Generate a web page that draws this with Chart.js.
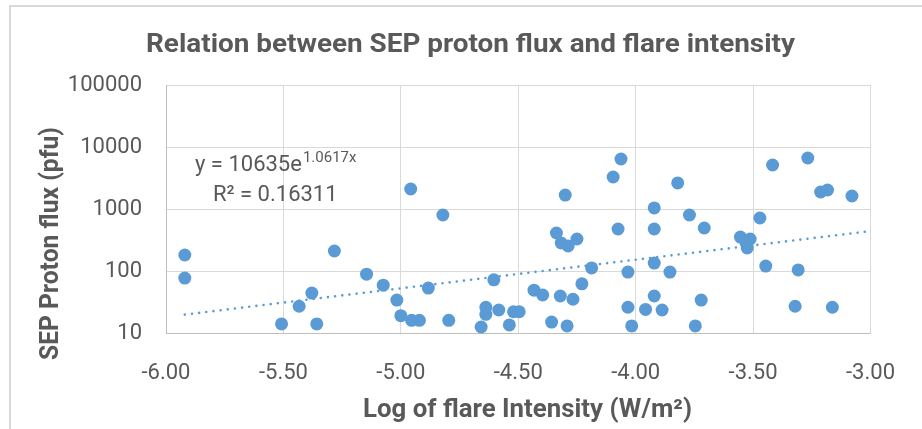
<!DOCTYPE html>
<html>
<head>
<meta charset="utf-8">
<script src="https://cdn.jsdelivr.net/npm/chart.js@4/dist/chart.umd.min.js"></script>
<style>
  html, body { margin: 0; padding: 0; background: #ffffff; }
  #wrap { width: 922px; height: 429px; position: relative; }
</style>
</head>
<body>
<div id="wrap"><canvas id="c"></canvas></div>
<script>
// ---- Data ----
const flareLog = [
  -5.92, -5.92, -5.283, -5.379, -5.433, -5.508, -5.358, -4.958, -4.821, -5.146,
  -5.075, -5.017, -4.883, -5.0, -4.954, -4.921, -4.796, -4.638, -4.638, -4.583,
  -4.658, -4.538, -4.52, -4.496, -4.604, -4.433, -4.0625, -4.096, -4.30, -3.821,
  -3.921, -3.771, -3.708, -4.075, -3.921, -4.3375, -4.317, -4.2875, -4.25, -4.1875,
  -3.921, -4.033, -3.854, -4.229, -4.396, -4.321, -4.267, -3.921, -3.721, -4.033,
  -3.958, -3.8875, -4.358, -4.292, -4.017, -3.746, -3.417, -3.267, -3.2125, -3.183,
  -3.079, -3.471, -3.554, -3.5125, -3.525, -3.53, -3.446, -3.308, -3.321, -3.1625
];
const protonFlux = [
  181, 77, 210, 44, 27, 14, 14, 2100, 800, 89,
  59, 34, 53, 19, 16, 16, 16, 26, 20, 23.5,
  12.5, 13.5, 22, 22, 72, 49, 6400, 3280, 1680, 2630,
  1040, 800, 494, 476, 476, 410, 283, 253, 328, 112,
  134, 96, 96, 62, 41, 39.5, 35, 39.5, 34, 26,
  24, 23.5, 15, 13, 13, 13, 5130, 6650, 1880, 2025,
  1620, 716, 353, 328, 235, 283, 120, 104, 27, 26
];
// Exponential trendline as printed on the chart: y = 10635 e^(1.0617x)
const trendA = 10635;
const trendB = 1.0617;
const trendX = [-5.92, -3.0];
const xTicks = [-6.0, -5.5, -5.0, -4.5, -4.0, -3.5, -3.0];
const yTicks = [10, 100, 1000, 10000, 100000];

const titleText = "Relation between SEP proton flux and flare intensity";
const xTitleText = "Log of flare Intensity (W/m\u00B2)";
const yTitleText = "SEP Proton flux (pfu)";
const eqMain = "y = 10635e";
const eqSup = "1.0617x";
const r2Text = "R\u00B2 = 0.16311";

// ---- build datasets ----
const scatterPts = flareLog.map((x, i) => ({ x: x, y: protonFlux[i] }));
const trendPts = trendX.map(x => ({ x: x, y: trendA * Math.exp(trendB * x) }));

const GREY = '#595959';
const BLUE = '#5B9BD5';

function scaledText(ctx, text, font, cx, baseline, targetW, rotate) {
  ctx.save();
  ctx.font = font;
  const w = ctx.measureText(text).width;
  const s = targetW / w;
  ctx.translate(cx, baseline);
  if (rotate) ctx.rotate(-Math.PI / 2);
  ctx.scale(s, 1);
  ctx.textAlign = 'center';
  ctx.textBaseline = 'alphabetic';
  ctx.fillStyle = GREY;
  ctx.fillText(text, 0, 0);
  ctx.restore();
}

const decor = {
  id: 'decor',
  beforeDraw(chart) {
    const ctx = chart.ctx;
    ctx.save();
    ctx.fillStyle = '#ffffff';
    ctx.fillRect(0, 0, chart.width, chart.height);
    ctx.strokeStyle = '#D9D9D9';
    ctx.lineWidth = 2;
    ctx.strokeRect(10, 6, chart.width + 20, chart.height + 20);
    ctx.restore();
  },
  afterDraw(chart) {
    const ctx = chart.ctx;
    // chart title
    scaledText(ctx, titleText, 'bold 26px Roboto', 470.5, 52, 649, false);
    // x axis title
    scaledText(ctx, xTitleText, 'bold 25px Roboto', 527.5, 417, 329, false);
    // y axis title
    scaledText(ctx, yTitleText, 'bold 25px Roboto', 58, 243.5, 233, true);
    // trendline equation
    ctx.save();
    ctx.fillStyle = GREY;
    ctx.textBaseline = 'alphabetic';
    ctx.textAlign = 'left';
    ctx.font = '22px Roboto';
    ctx.fillText(eqMain, 195, 171);
    const w1 = ctx.measureText(eqMain).width;
    ctx.font = '15px Roboto';
    ctx.fillText(eqSup, 195 + w1 + 1, 162);
    ctx.font = '22px Roboto';
    ctx.fillText(r2Text, 213, 201);
    ctx.restore();
  }
};

new Chart(document.getElementById('c'), {
  type: 'scatter',
  data: {
    datasets: [
      {
        type: 'line',
        label: 'Trend',
        data: trendPts,
        borderColor: BLUE,
        borderWidth: 2.6,
        borderDash: [0.01, 7.2],
        borderCapStyle: 'round',
        pointRadius: 0,
        fill: false,
        tension: 0,
        clip: false
      },
      {
        label: 'SEP',
        data: scatterPts,
        backgroundColor: BLUE,
        borderColor: BLUE,
        borderWidth: 0,
        pointRadius: 6.5,
        pointHoverRadius: 6.5,
        clip: false
      }
    ]
  },
  options: {
    responsive: true,
    maintainAspectRatio: false,
    animation: false,
    devicePixelRatio: 1,
    layout: { padding: { top: 85, right: 36, left: 0, bottom: 0 } },
    plugins: {
      legend: { display: false },
      title: { display: false },
      tooltip: { enabled: false }
    },
    scales: {
      x: {
        type: 'linear',
        min: -6,
        max: -3,
        afterBuildTicks(scale) { scale.ticks = xTicks.map(v => ({ value: v })); },
        afterFit(scale) { scale.height = 96; },
        ticks: {
          color: GREY,
          font: { family: 'Roboto', size: 22 },
          padding: 27,
          maxRotation: 0,
          autoSkip: false,
          callback: v => Number(v).toFixed(2)
        },
        grid: { color: '#D9D9D9', lineWidth: 1, drawTicks: false },
        border: { color: '#BFBFBF', width: 1 }
      },
      y: {
        type: 'logarithmic',
        min: 10,
        max: 100000,
        afterBuildTicks(scale) { scale.ticks = yTicks.map(v => ({ value: v })); },
        afterFit(scale) { scale.width = 166; },
        ticks: {
          color: GREY,
          font: { family: 'Roboto', size: 22 },
          padding: 24,
          autoSkip: false,
          callback: v => String(Math.round(v))
        },
        grid: { color: '#D9D9D9', lineWidth: 1, drawTicks: false },
        border: { color: '#BFBFBF', width: 1 }
      }
    }
  },
  plugins: [decor]
});
</script>
</body>
</html>
